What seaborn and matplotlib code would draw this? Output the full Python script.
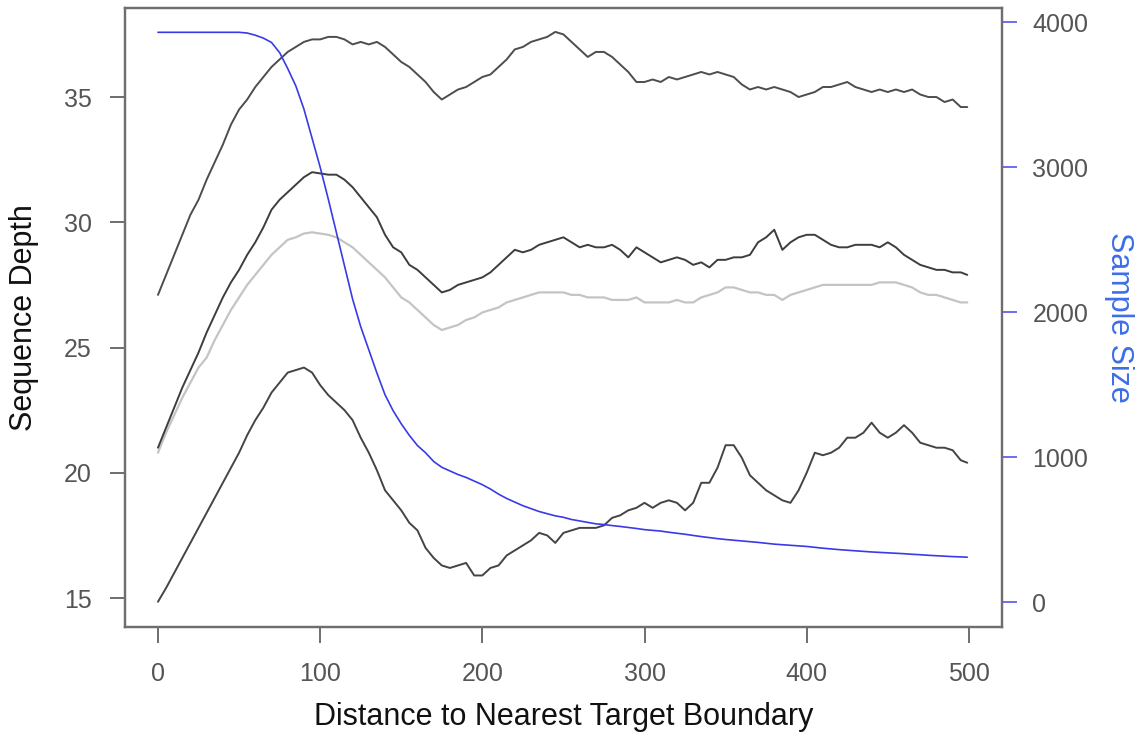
import numpy as np
import pandas as pd
import matplotlib
matplotlib.use("Agg")
import matplotlib.pyplot as plt
import seaborn as sns

distance = list(range(0, 500, 5)) + [499]

depth_top = [27.1, 27.9, 28.7, 29.5, 30.3, 30.9, 31.7, 32.4, 33.1, 33.9, 34.5, 34.9, 35.4, 35.8, 36.2, 36.5, 36.8, 37.0, 37.2, 37.3,
             37.3, 37.4, 37.4, 37.3, 37.1, 37.2, 37.1, 37.2, 37.0, 36.7, 36.4, 36.2, 35.9, 35.6, 35.2, 34.9, 35.1, 35.3, 35.4, 35.6,
             35.8, 35.9, 36.2, 36.5, 36.9, 37.0, 37.2, 37.3, 37.4, 37.6, 37.5, 37.2, 36.9, 36.6, 36.8, 36.8, 36.6, 36.3, 36.0, 35.6,
             35.6, 35.7, 35.6, 35.8, 35.7, 35.8, 35.9, 36.0, 35.9, 36.0, 35.9, 35.8, 35.5, 35.3, 35.4, 35.3, 35.4, 35.3, 35.2, 35.0,
             35.1, 35.2, 35.4, 35.4, 35.5, 35.6, 35.4, 35.3, 35.2, 35.3, 35.2, 35.3, 35.2, 35.3, 35.1, 35.0, 35.0, 34.8, 34.9, 34.6, 34.6]

depth_mid = [21.0, 21.8, 22.6, 23.4, 24.1, 24.8, 25.6, 26.3, 27.0, 27.6, 28.1, 28.7, 29.2, 29.8, 30.5, 30.9, 31.2, 31.5, 31.8, 32.0,
             31.95, 31.9, 31.9, 31.7, 31.4, 31.0, 30.6, 30.2, 29.5, 29.0, 28.8, 28.3, 28.1, 27.8, 27.5, 27.2, 27.3, 27.5, 27.6, 27.7,
             27.8, 28.0, 28.3, 28.6, 28.9, 28.8, 28.9, 29.1, 29.2, 29.3, 29.4, 29.2, 29.0, 29.1, 29.0, 29.0, 29.1, 28.9, 28.6, 29.0,
             28.8, 28.6, 28.4, 28.5, 28.6, 28.5, 28.3, 28.4, 28.2, 28.5, 28.5, 28.6, 28.6, 28.7, 29.2, 29.4, 29.7, 28.9, 29.2, 29.4,
             29.5, 29.5, 29.3, 29.1, 29.0, 29.0, 29.1, 29.1, 29.1, 29.0, 29.2, 29.0, 28.7, 28.5, 28.3, 28.2, 28.1, 28.1, 28.0, 28.0, 27.9]

depth_light = [20.8, 21.6, 22.3, 23.0, 23.6, 24.2, 24.6, 25.3, 25.9, 26.5, 27.0, 27.5, 27.9, 28.3, 28.7, 29.0, 29.3, 29.4, 29.55, 29.6,
               29.55, 29.5, 29.4, 29.2, 29.0, 28.7, 28.4, 28.1, 27.8, 27.4, 27.0, 26.8, 26.5, 26.2, 25.9, 25.7, 25.8, 25.9, 26.1, 26.2,
               26.4, 26.5, 26.6, 26.8, 26.9, 27.0, 27.1, 27.2, 27.2, 27.2, 27.2, 27.1, 27.1, 27.0, 27.0, 27.0, 26.9, 26.9, 26.9, 27.0,
               26.8, 26.8, 26.8, 26.8, 26.9, 26.8, 26.8, 27.0, 27.1, 27.2, 27.4, 27.4, 27.3, 27.2, 27.2, 27.1, 27.1, 26.9, 27.1, 27.2,
               27.3, 27.4, 27.5, 27.5, 27.5, 27.5, 27.5, 27.5, 27.5, 27.6, 27.6, 27.6, 27.5, 27.4, 27.2, 27.1, 27.1, 27.0, 26.9, 26.8, 26.8]

depth_low = [14.85, 15.4, 16.0, 16.6, 17.2, 17.8, 18.4, 19.0, 19.6, 20.2, 20.8, 21.5, 22.1, 22.6, 23.2, 23.6, 24.0, 24.1, 24.2, 24.0,
             23.5, 23.1, 22.8, 22.5, 22.1, 21.4, 20.8, 20.1, 19.3, 18.9, 18.5, 18.0, 17.7, 17.0, 16.6, 16.3, 16.2, 16.3, 16.4, 15.9,
             15.9, 16.2, 16.3, 16.7, 16.9, 17.1, 17.3, 17.6, 17.5, 17.2, 17.6, 17.7, 17.8, 17.8, 17.8, 17.9, 18.2, 18.3, 18.5, 18.6,
             18.8, 18.6, 18.8, 18.9, 18.8, 18.5, 18.8, 19.6, 19.6, 20.2, 21.1, 21.1, 20.6, 19.9, 19.6, 19.3, 19.1, 18.9, 18.8, 19.3,
             20.0, 20.8, 20.7, 20.8, 21.0, 21.4, 21.4, 21.6, 22.0, 21.6, 21.4, 21.6, 21.9, 21.6, 21.2, 21.1, 21.0, 21.0, 20.9, 20.5, 20.4]

sample_size = [3930, 3930, 3930, 3930, 3930, 3930, 3930, 3930, 3930, 3930, 3930, 3925, 3910, 3890, 3860, 3790, 3680, 3560, 3400, 3200,
               3000, 2780, 2550, 2320, 2090, 1900, 1740, 1580, 1430, 1320, 1230, 1150, 1080, 1030, 970, 930, 905, 880, 860, 835,
               810, 780, 745, 715, 690, 665, 645, 625, 610, 595, 585, 570, 560, 550, 540, 535, 528, 522, 515, 508,
               500, 495, 490, 482, 475, 468, 460, 452, 445, 438, 432, 427, 422, 417, 412, 406, 400, 396, 392, 388,
               384, 378, 372, 367, 362, 358, 354, 350, 346, 343, 340, 337, 334, 330, 327, 323, 320, 317, 314, 312, 310]

x_ticks = [0, 100, 200, 300, 400, 500]
left_ticks = [15, 20, 25, 30, 35]
right_ticks = [0, 1000, 2000, 3000, 4000]

sns.set_style("white")
plt.rcParams['font.family'] = ['Liberation Sans', 'DejaVu Sans']

fig = plt.figure(figsize=(11.41, 7.36), dpi=100)
ax = fig.add_axes([0.1096, 0.148, 0.7684, 0.841])

df = pd.DataFrame({"distance": distance, "top": depth_top, "mid": depth_mid,
                   "light": depth_light, "low": depth_low, "n": sample_size})

sns.lineplot(data=df, x="distance", y="light", ax=ax, color="#c4c4c4", linewidth=1.6)
sns.lineplot(data=df, x="distance", y="top", ax=ax, color="#4d4d4d", linewidth=1.4)
sns.lineplot(data=df, x="distance", y="mid", ax=ax, color="#3d3d3d", linewidth=1.4)
sns.lineplot(data=df, x="distance", y="low", ax=ax, color="#444444", linewidth=1.4)

ax.set_xlim(-20.3, 520.3)
ax.set_ylim(13.84, 38.55)
ax.set_xticks(x_ticks)
ax.set_yticks(left_ticks)
ax.set_xlabel("Distance to Nearest Target Boundary", fontsize=22, color="#111111", labelpad=11)
ax.set_ylabel("Sequence Depth", fontsize=22, color="#111111", labelpad=18)
ax.tick_params(axis="x", direction="out", length=11.5, width=1.2, color="#555555",
               labelsize=18, labelcolor="#555555", pad=14, bottom=True)
ax.tick_params(axis="y", direction="out", length=11, width=1.2, color="#555555",
               labelsize=18, labelcolor="#555555", pad=13, left=True)
for s in ax.spines.values():
    s.set_color("#6e6e6e")
    s.set_linewidth(1.6)

ax2 = ax.twinx()
sns.lineplot(data=df, x="distance", y="n", ax=ax2, color="#3a3ae8", linewidth=1.2)
ax2.set_ylim(-172, 4097)
ax2.set_yticks(right_ticks)
ax2.set_ylabel("Sample Size", fontsize=22, color="#3d6ee6", rotation=270, labelpad=33)
ax2.tick_params(axis="y", direction="out", length=11, width=1.2, color="#5555ee",
                labelsize=18, labelcolor="#555555", pad=11, right=True)
for s in ax2.spines.values():
    s.set_color("#6e6e6e")
    s.set_linewidth(1.6)

fig.savefig("out.png", dpi=100)
